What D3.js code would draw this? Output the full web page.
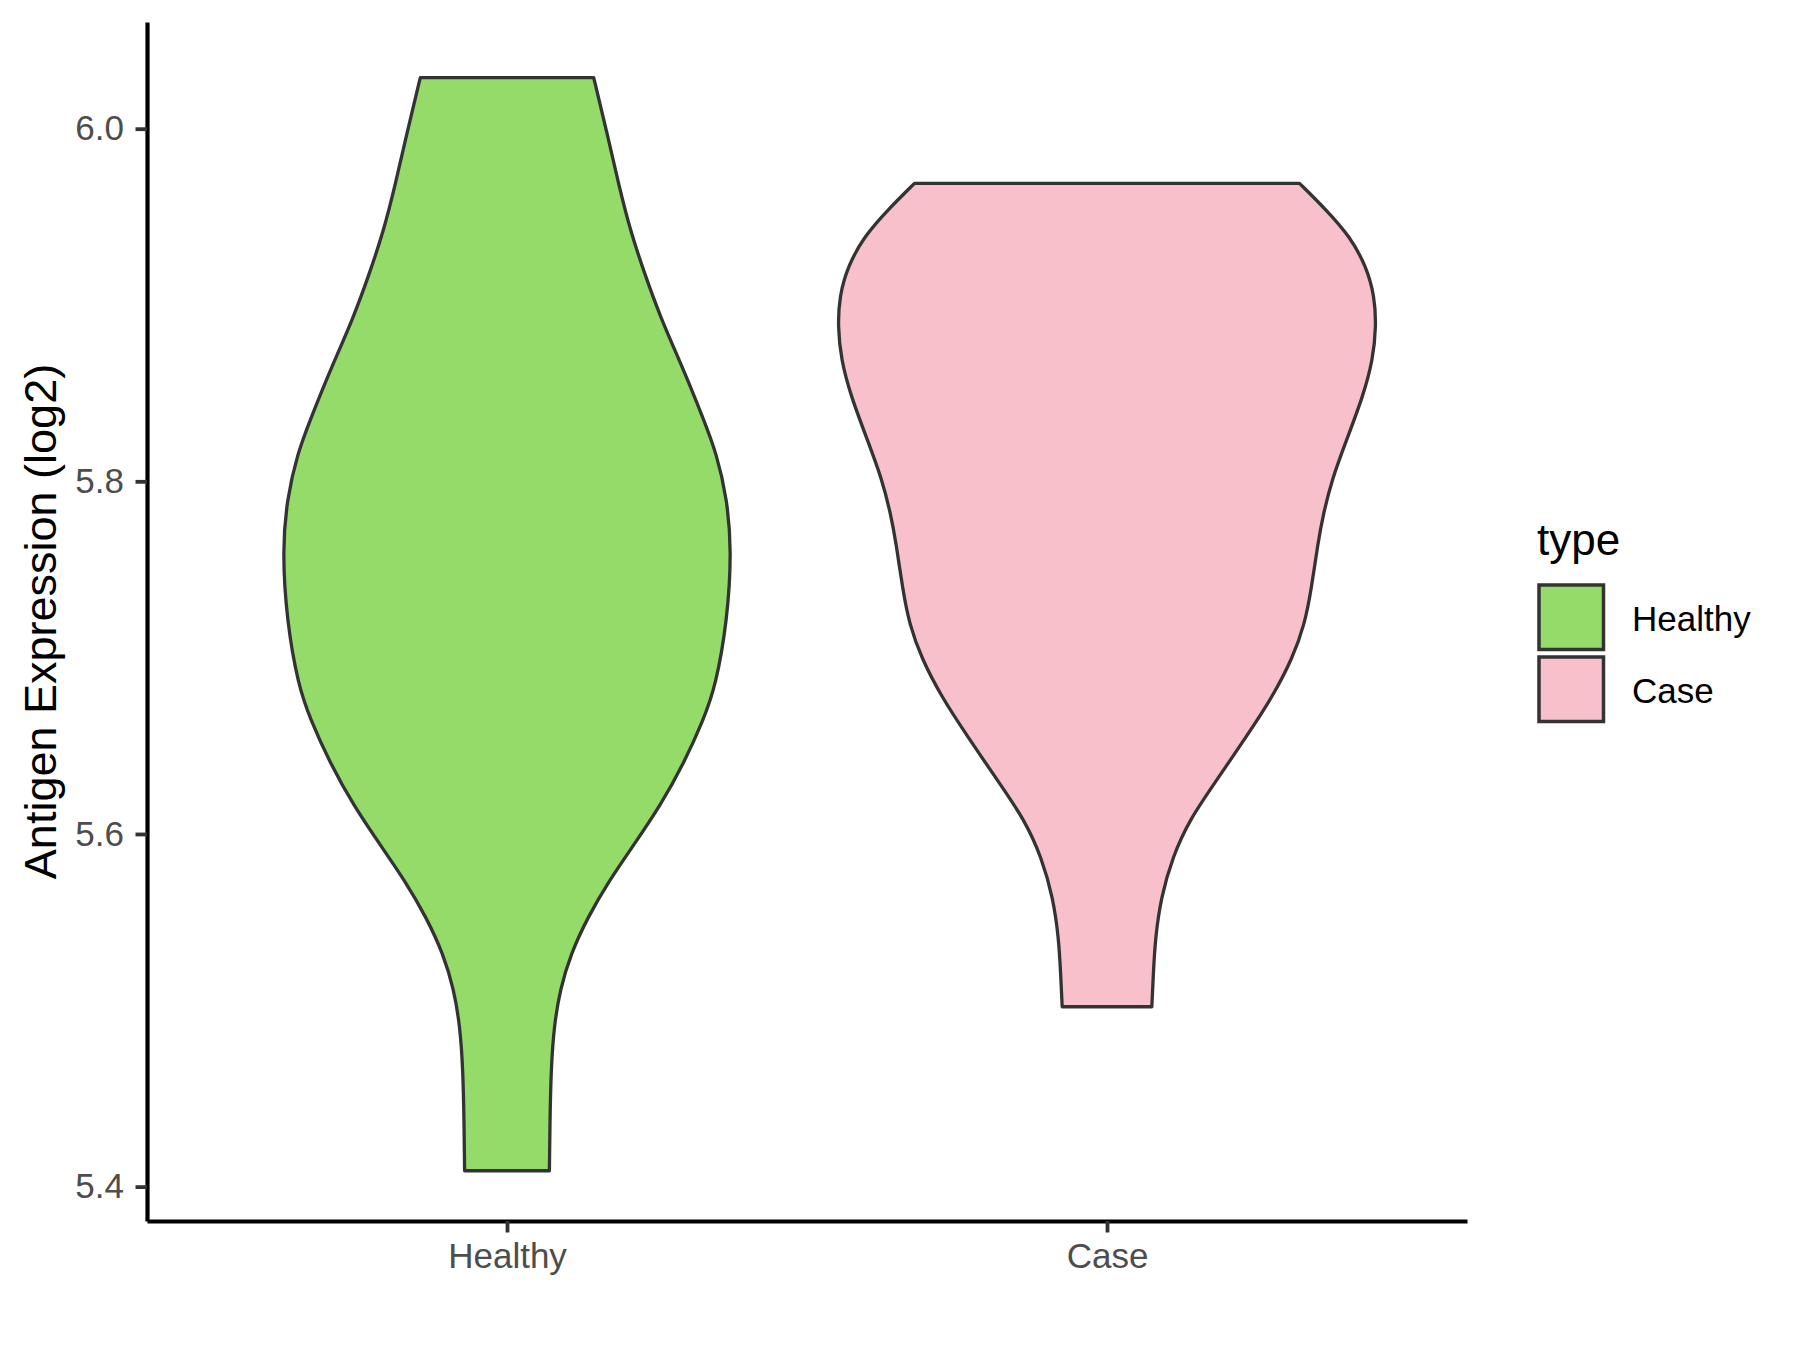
<!DOCTYPE html>
<html>
<head>
<meta charset="utf-8">
<script src="https://cdn.jsdelivr.net/npm/d3@7"></script>
<style>
  body { margin: 0; background: #fff; }
  text { font-family: "Liberation Sans", Arial, sans-serif; }
</style>
</head>
<body>
<script>
// size of the page
const W = 1800, H = 1350;
const margin = { top: 22, right: 333, bottom: 129, left: 147 };

// data
const groups = ['Healthy', 'Case'];
const colors = ['#95DB6A', '#F8C0CB'];

// density outline: expression value and relative half width
const healthyExpr = [6.029, 5.998, 5.968, 5.942, 5.919, 5.893, 5.863, 5.836, 5.816, 5.790, 5.761, 5.721,
    5.684, 5.665, 5.641, 5.616, 5.593, 5.573, 5.553, 5.532, 5.512, 5.491, 5.466, 5.436, 5.409];
const healthyDensity = [0.321, 0.370, 0.414, 0.457, 0.507, 0.568, 0.655, 0.726, 0.776, 0.815, 0.832, 0.816,
    0.773, 0.728, 0.658, 0.568, 0.466, 0.376, 0.300, 0.236, 0.197, 0.174, 0.163, 0.159, 0.157];

const caseExpr = [5.969, 5.954, 5.939, 5.922, 5.905, 5.888, 5.869, 5.848, 5.823, 5.801, 5.782, 5.765,
    5.738, 5.719, 5.700, 5.678, 5.655, 5.630, 5.608, 5.587, 5.564, 5.541, 5.522, 5.502];
const caseDensity = [0.713, 0.812, 0.899, 0.960, 0.991, 0.997, 0.985, 0.948, 0.886, 0.833, 0.802, 0.781,
    0.756, 0.732, 0.688, 0.614, 0.515, 0.404, 0.305, 0.243, 0.200, 0.179, 0.172, 0.166];

const yTicks = [5.4, 5.6, 5.8, 6.0];
const yDomain = [5.3805, 6.0605];

const violins = [
    { group: 'Healthy', pts: healthyExpr.map((v, i) => ({ v: v, d: healthyDensity[i] })) },
    { group: 'Case', pts: caseExpr.map((v, i) => ({ v: v, d: caseDensity[i] })) }
];

const svg = d3.select('body').append('svg')
    .attr('width', W)
    .attr('height', H);

svg.append('rect').attr('width', W).attr('height', H).attr('fill', '#fff');

// scales
let x = d3.scalePoint()
    .domain(groups)
    .range([margin.left, W - margin.right])
    .padding(0.6);

let y = d3.scaleLinear()
    .domain(yDomain)
    .range([H - margin.bottom, margin.top]);

let halfW = d3.scaleLinear()
    .domain([0, 1])
    .range([0, 0.45 * x.step()]);

let fill = d3.scaleOrdinal().domain(groups).range(colors);

// violins
violins.forEach(function (g) {
    const cx = x(g.group);
    const area = d3.area()
        .y(d => y(d.v))
        .x0(d => cx - halfW(d.d))
        .x1(d => cx + halfW(d.d))
        .curve(d3.curveBasis);
    svg.append('path')
        .datum(g.pts)
        .attr('d', area)
        .attr('fill', fill(g.group))
        .attr('stroke', '#333333')
        .attr('stroke-width', 3.3)
        .attr('stroke-linejoin', 'round');
});

// y axis
const yAxis = svg.append('g')
    .attr('transform', 'translate(' + margin.left + ',0)')
    .call(d3.axisLeft(y).tickValues(yTicks).tickFormat(d3.format('.1f'))
        .tickSizeInner(11.5).tickSizeOuter(0).tickPadding(11.5));

// x axis
const xAxis = svg.append('g')
    .attr('transform', 'translate(0,' + (H - margin.bottom) + ')')
    .call(d3.axisBottom(x).tickSizeInner(11.5).tickSizeOuter(0).tickPadding(11));

[yAxis, xAxis].forEach(function (a) {
    a.select('.domain').attr('stroke', '#000').attr('stroke-width', 4.2);
    a.selectAll('.tick line').attr('stroke', '#333333').attr('stroke-width', 3.8);
    a.selectAll('.tick text')
        .attr('fill', '#4D4D4D')
        .style('font-size', '35px')
        .style('font-family', '"Liberation Sans", Arial, sans-serif');
});

// y axis title
svg.append('text')
    .attr('text-anchor', 'middle')
    .attr('transform', 'translate(56,' + ((margin.top + H - margin.bottom) / 2) + ')rotate(-90)')
    .style('font-size', '45px')
    .attr('fill', '#000')
    .text('Antigen Expression (log2)');

// legend
const legend = svg.append('g').attr('transform', 'translate(1537,0)');

legend.append('text')
    .attr('x', 0)
    .attr('y', 555)
    .style('font-size', '44px')
    .attr('fill', '#000')
    .text('type');

groups.forEach(function (g, i) {
    legend.append('rect')
        .attr('x', 2)
        .attr('y', 585 + i * 72)
        .attr('width', 64.5)
        .attr('height', 64.5)
        .attr('fill', fill(g))
        .attr('stroke', '#333333')
        .attr('stroke-width', 3.5);
    legend.append('text')
        .attr('x', 95)
        .attr('y', 631 + i * 71.5)
        .style('font-size', '35px')
        .attr('fill', '#000')
        .text(g);
});
</script>
</body>
</html>
